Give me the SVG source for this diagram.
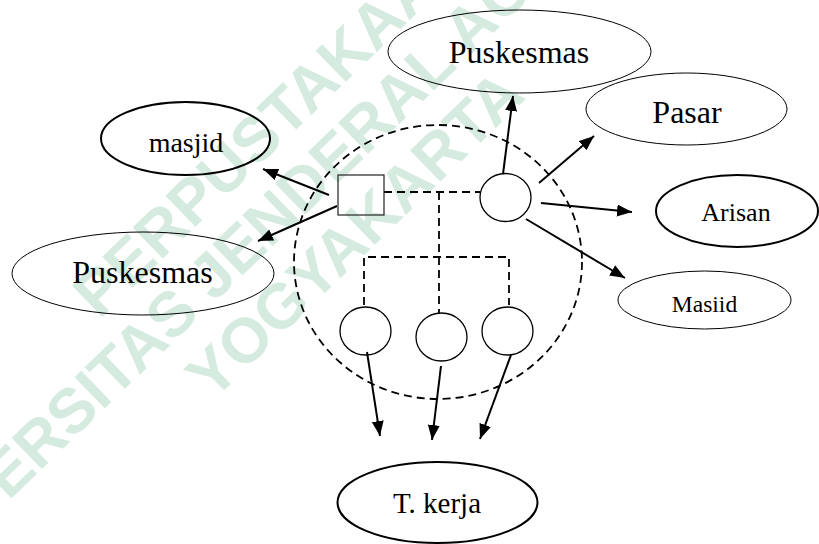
<svg xmlns="http://www.w3.org/2000/svg" width="819" height="544" viewBox="0 0 819 544">
<style>
.wm{font-family:"Liberation Sans",Arial,sans-serif;font-weight:bold;font-size:63px;fill:#d5ebe0}
.lbl{font-family:"Liberation Serif","Times New Roman",serif;fill:#000;text-anchor:middle}
.thin{fill:none;stroke:#000;stroke-width:1}
.thick{fill:none;stroke:#000;stroke-width:2}
.circ{fill:none;stroke:#000;stroke-width:1.3}
.dash{fill:none;stroke:#000;stroke-width:1.8;stroke-dasharray:8 5}
.arr{fill:none;stroke:#000;stroke-width:2;marker-end:url(#ah)}
</style>
<defs>
<marker id="ah" markerUnits="userSpaceOnUse" markerWidth="16" markerHeight="13" refX="15" refY="6" orient="auto">
<path d="M0,0 L15,6 L0,12 z" fill="#000"/>
</marker>
</defs>
<rect width="819" height="544" fill="#fff"/>
<g id="watermark">
<text class="wm" transform="translate(84,304) rotate(-44)" x="0" y="22">PERPUSTAKAAN</text>
<text class="wm" transform="translate(-115,590) rotate(-44)" x="0" y="22">UNIVERSITAS JENDERAL ACHMAD YANI</text>
<text class="wm" transform="translate(197,386) rotate(-44)" x="0" y="22">YOGYAKARTA</text>
</g>
<g id="household">
<ellipse class="dash" cx="438" cy="262" rx="144" ry="137"/>
</g>
<g id="connectors">
<polyline class="dash" points="384,192 480,192"/>
<polyline class="dash" points="439,192 439,257"/>
<polyline class="dash" points="364,305 364,257 509,257 509,305"/>
<polyline class="dash" points="439,257 439,313"/>
<line class="arr" x1="329" y1="195" x2="263" y2="169"/>
<line class="arr" x1="337" y1="206" x2="258" y2="241"/>
<line class="arr" x1="503" y1="174" x2="513" y2="96"/>
<line class="arr" x1="539" y1="183" x2="594" y2="136"/>
<line class="arr" x1="541" y1="203" x2="632" y2="212"/>
<line class="arr" x1="526" y1="219" x2="625" y2="278"/>
<line class="arr" x1="367" y1="352" x2="380" y2="436"/>
<line class="arr" x1="441" y1="366" x2="432" y2="440"/>
<line class="arr" x1="511" y1="355" x2="480" y2="439"/>
</g>
<g id="father"><rect x="338" y="175" width="46" height="40" fill="none" stroke="#222" stroke-width="1.2"/></g>
<g id="mother"><ellipse class="circ" cx="505.5" cy="197.5" rx="25.5" ry="24"/></g>
<g id="child1"><ellipse class="circ" cx="365.5" cy="331" rx="25.5" ry="24"/></g>
<g id="child2"><ellipse class="circ" cx="441.5" cy="337" rx="25.5" ry="24"/></g>
<g id="child3"><ellipse class="circ" cx="507.5" cy="331" rx="25.5" ry="24"/></g>
<g id="puskesmas-top"><ellipse class="thin" cx="519.5" cy="51.5" rx="131.5" ry="41.5"/><text class="lbl" x="519" y="63" font-size="32">Puskesmas</text></g>
<g id="pasar"><ellipse class="thin" cx="686.5" cy="109" rx="100.5" ry="36"/><text class="lbl" x="687" y="123" font-size="32">Pasar</text></g>
<g id="arisan"><ellipse class="thick" cx="737" cy="211" rx="81" ry="36"/><text class="lbl" x="736" y="221" font-size="26">Arisan</text></g>
<g id="masiid"><ellipse class="thin" cx="704.5" cy="300" rx="86.5" ry="29"/><text class="lbl" x="704.5" y="312" font-size="23.5">Masiid</text></g>
<g id="masjid"><ellipse class="thick" cx="185.5" cy="138.5" rx="84.5" ry="36.5"/><text class="lbl" x="186" y="152" font-size="28">masjid</text></g>
<g id="puskesmas-left"><ellipse class="thin" cx="143" cy="273.5" rx="131" ry="41.5"/><text class="lbl" x="142.5" y="283" font-size="32">Puskesmas</text></g>
<g id="tkerja"><ellipse class="thick" cx="437.5" cy="502.5" rx="100" ry="40.5"/><text class="lbl" x="437" y="513" font-size="29">T. kerja</text></g>
</svg>
